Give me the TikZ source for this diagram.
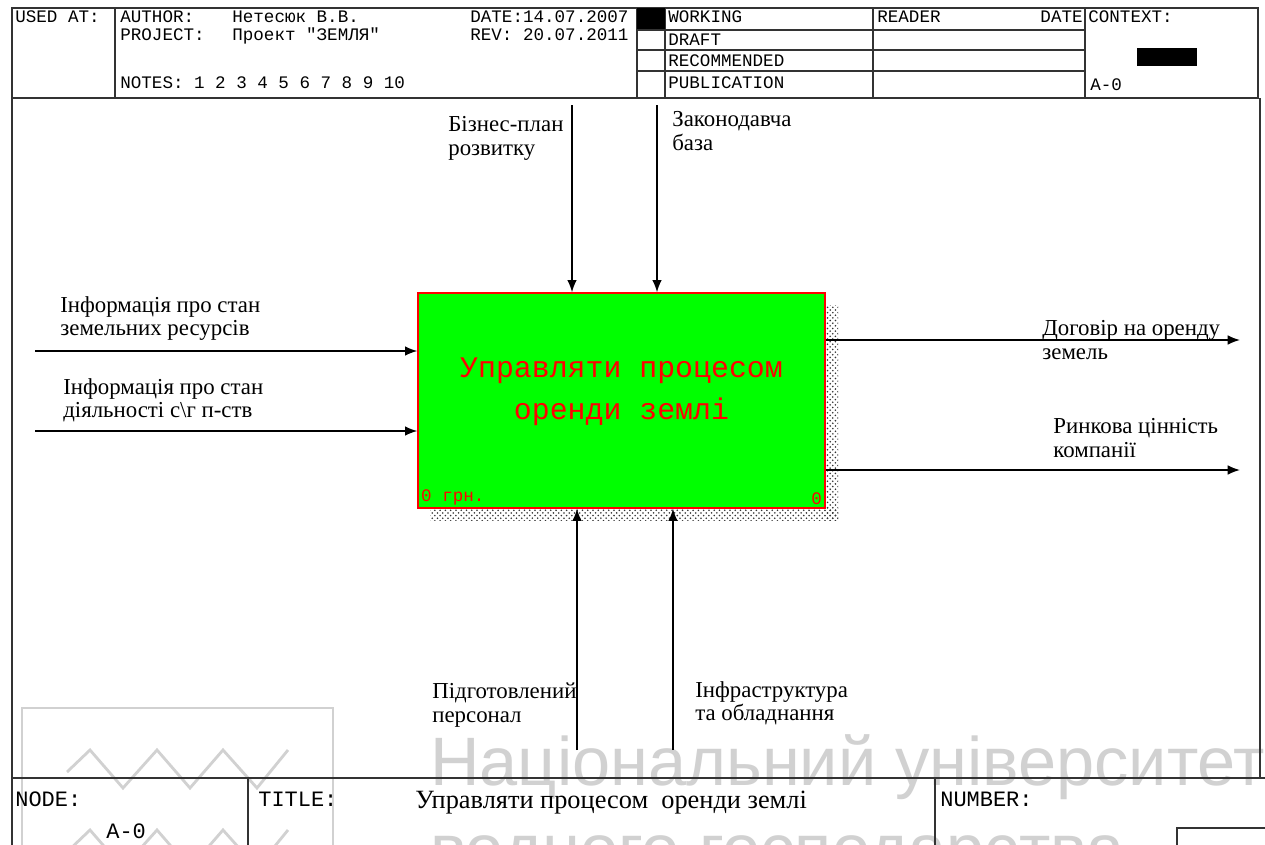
\documentclass[tikz,border=0pt]{standalone}
\usepackage{fontspec}
\setmainfont{Liberation Serif}
\newfontfamily\monofnt{Liberation Mono}
\newfontfamily\wmfnt{Liberation Sans}
\usetikzlibrary{arrows.meta,patterns}
\tikzset{
    frm/.style={line width=1pt, black!80},
    hdr/.style={font=\monofnt\fontsize{10}{11}\selectfont, anchor=base west, inner sep=0pt},
    ftr/.style={font=\monofnt\fontsize{12.5}{13}\selectfont, anchor=base west, inner sep=0pt},
    lbl/.style={font=\fontsize{13}{13.5}\selectfont, align=left, anchor=north west, inner sep=0pt},
    actbox/.style={draw=red, fill=green, line width=0.8pt, minimum width=8.14cm, minimum height=4.3cm},
    acttxt/.style={align=center, text=red, font=\monofnt\fontsize{17}{24}\selectfont, inner sep=0pt},
    cost/.style={text=red, font=\monofnt\fontsize{10}{10}\selectfont, inner sep=2pt},
    wm/.style={text=black!18, font=\wmfnt\fontsize{39}{39}\selectfont, anchor=base west, inner sep=0pt},
    arr/.style={->, line width=0.9pt},
}
\begin{document}
\begin{tikzpicture}[x=0.02cm, y=-0.02cm, >={Latex[length=7pt,width=5.5pt]}]
\clip (0,0) rectangle (1265,845);
\fill[white] (0,0) rectangle (1265,845);

\begin{scope}
    \node[wm] (wm1) at (430,785) {Національний університет};
    \node[wm] (wm2) at (430,872) {водного господарства};
    \draw[black!18, line width=1.6pt] (22,708) rectangle (333,900);
    \foreach \dy in {0,80}
    {
        \draw[black!18, line width=1.6pt] (67,772+\dy)--(90,750+\dy)--(123,788+\dy)--(157,750+\dy)
            --(190,788+\dy)--(223,750+\dy)--(257,788+\dy)--(288,750+\dy);
    }
\end{scope}

\begin{scope}
    \draw[frm] (12,8) rectangle (1258,98);
    \foreach \x in {115,637,665,873,1085}
    {
        \draw[frm] (\x,8)--(\x,98);
    }
    \fill (637,8) rectangle (665,30);
    \foreach \y/\w in {30/0.6,50/1,71/0.6}
    {
        \draw[black!80, line width=\w pt] (637,\y)--(1085,\y);
    }
    \fill (1137,48) rectangle (1197,66);
    \node[hdr] (used) at (15,22) {USED AT:};
    \node[hdr] (auth) at (120,22) {AUTHOR:};
    \node[hdr] (authv) at (232,22) {Нетесюк В.В.};
    \node[hdr] (proj) at (120,40) {PROJECT:};
    \node[hdr] (projv) at (232,40) {Проект "ЗЕМЛЯ"};
    \node[hdr] (date) at (470,22) {DATE:14.07.2007};
    \node[hdr] (rev) at (470,40) {REV:  20.07.2011};
    \node[hdr] (notes) at (120,88) {NOTES: 1 2 3 4 5 6 7 8 9 10};
    \node[hdr] (work) at (668,22) {WORKING};
    \node[hdr] (draft) at (668,45) {DRAFT};
    \node[hdr] (recm) at (668,66) {RECOMMENDED};
    \node[hdr] (publ) at (668,88) {PUBLICATION};
    \node[hdr] (read) at (877,22) {READER};
    \node[hdr, anchor=base east] (rdate) at (1083,22) {DATE};
    \node[hdr] (ctx) at (1088,22) {CONTEXT:};
    \node[hdr] (ctxn) at (1090,90) {A-0};
\end{scope}

\draw[frm] (12,98)--(12,845);
\draw[frm] (1260,98)--(1260,778);

\begin{scope}
    \draw[line width=1.4pt, black!80] (12,778)--(1265,778);
    \draw[frm] (248,778)--(248,845);
    \draw[frm] (935,778)--(935,845);
    \draw[frm] (1177,845)--(1177,828)--(1265,828);
    \node[ftr] (nd) at (15,806) {NODE:};
    \node[ftr] (ndv) at (106,838) {A-0};
    \node[ftr] (ttl) at (258,806) {TITLE:};
    \node[anchor=base west, inner sep=0pt, font=\fontsize{15}{16}\selectfont] (ttlv) at (415,808) {Управляти процесом\ \ оренди землі};
    \node[ftr] (num) at (940,806) {NUMBER:};
\end{scope}

\fill[pattern=crosshatch dots, pattern color=black!80] (825,305) rectangle (838,520);
\fill[pattern=crosshatch dots, pattern color=black!80] (430,508) rectangle (838,520);

\node[actbox] (act) at (621.5,400.5) {};
\node[acttxt] (actt) at ([yshift=5pt]act.center) {Управляти процесом\\оренди землі};
\node[cost, anchor=south west] (cst) at (act.south west) {0 грн.};
\node[cost, anchor=south east] (cnt) at (act.south east) {0};

\coordinate (bpN) at (572,105);
\coordinate (zbN) at (657,105);
\coordinate (in1W) at (35,351);
\coordinate (in2W) at (35,431);
\coordinate (dogE) at (1240,340);
\coordinate (rinE) at (1240,470);
\coordinate (pidS) at (577,750);
\coordinate (infS) at (673,750);

\draw[arr] (bpN)--(bpN |- act.north);
\draw[arr] (zbN)--(zbN |- act.north);
\draw[arr] (in1W)--(in1W -| act.west);
\draw[arr] (in2W)--(in2W -| act.west);
\draw[arr] (dogE -| act.east)--(dogE);
\draw[arr] (rinE -| act.east)--(rinE);
\draw[arr] (pidS)--(pidS |- act.south);
\draw[arr] (infS)--(infS |- act.south);

\node[lbl] (bp) at (448,116) {Бізнес-план\\розвитку};
\node[lbl] (zb) at (672,111) {Законодавча\\база};
\node[lbl] (inf1) at (60,296) {Інформація про стан\\земельних ресурсів};
\node[lbl] (inf2) at (63,378) {Інформація про стан\\діяльності с\textbackslash г п-ств};
\node[lbl] (dog) at (1042,320) {Договір на оренду\\земель};
\node[lbl] (rin) at (1053,418) {Ринкова цінність\\компанії};
\node[lbl] (pid) at (432,683) {Підготовлений\\персонал};
\node[lbl] (infr) at (695,681) {Інфраструктура\\та обладнання};
\end{tikzpicture}
\end{document}
